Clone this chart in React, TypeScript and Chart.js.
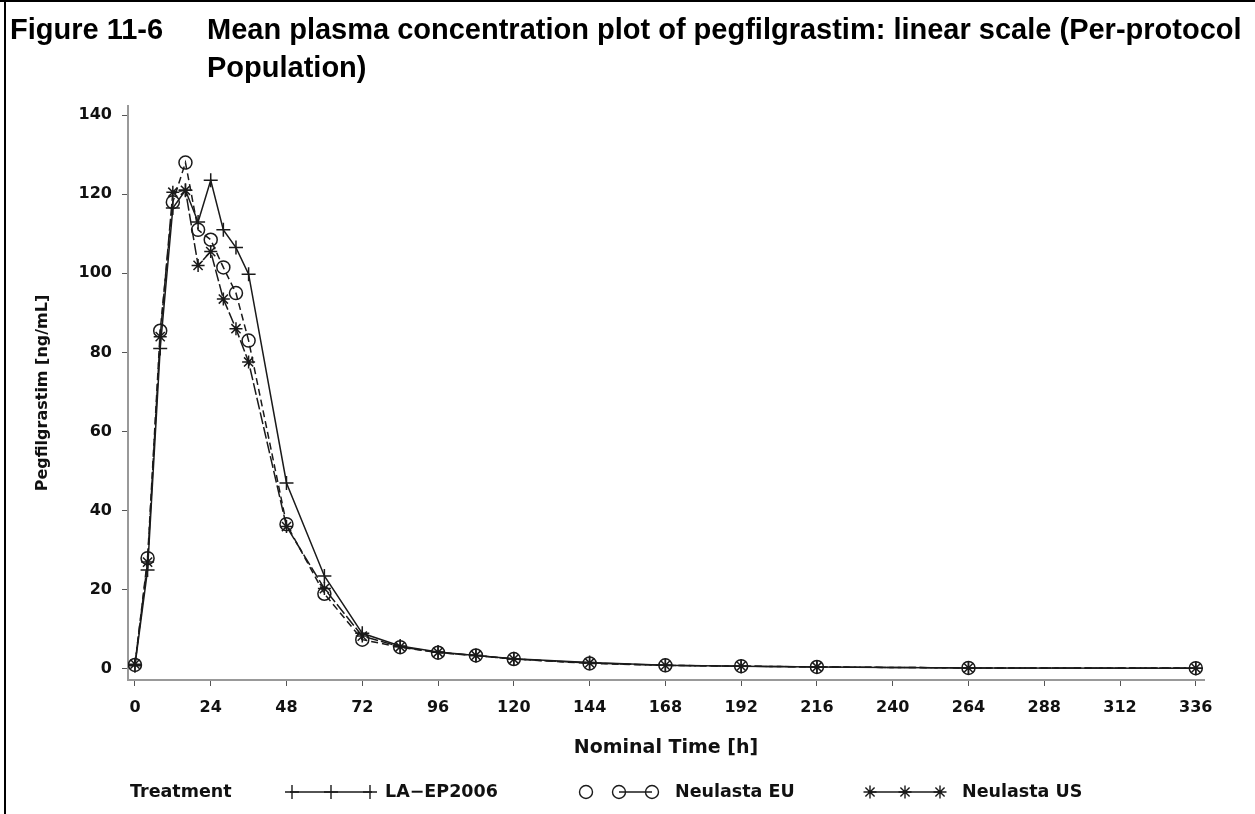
import React, { useEffect, useRef } from "react";
import { Chart, registerables } from "chart.js";

Chart.register(...registerables);

const times = [0, 4, 8, 12, 16, 20, 24, 28, 32, 36, 48, 60, 72, 84, 96, 108, 120, 144, 168, 192, 216, 264, 336];
const laEp2006 = [0.8, 25, 81, 116.5, 121, 113, 123.5, 111, 106.5, 99.8, 47, 23.5, 9, 5.8, 4.3, 3.4, 2.6, 1.6, 0.9, 0.7, 0.5, 0.25, 0.2];
const neulastaEU = [1, 28, 85.5, 118, 128, 111, 108.5, 101.5, 95, 83, 36.6, 19, 7.4, 5.5, 4.1, 3.4, 2.5, 1.4, 0.9, 0.7, 0.5, 0.25, 0.2];
const neulastaUS = [1.2, 27, 84, 120.5, 121, 102, 105.5, 93.5, 86, 77.6, 36, 20.3, 8.3, 5.6, 4.2, 3.4, 2.5, 1.5, 0.9, 0.7, 0.5, 0.25, 0.2];

const seriesLabels = ["LA\u2212EP2006", "Neulasta EU", "Neulasta US"];
const xTicks = [0, 24, 48, 72, 96, 120, 144, 168, 192, 216, 240, 264, 288, 312, 336];
const yTicks = [0, 20, 40, 60, 80, 100, 120, 140];

const figureLabel = "Figure 11-6";
const titleLines = ["Mean plasma concentration plot of pegfilgrastim: linear scale (Per-protocol", "Population)"];
const xTitle = "Nominal Time [h]";
const yTitle = "Pegfilgrastim [ng/mL]";
const legendTitle = "Treatment";

const INK = "#1a1a1a";

function drawMarker(ctx: CanvasRenderingContext2D, style: string, x: number, y: number, r: number) {
  ctx.beginPath();
  if (style === "cross") {
    ctx.moveTo(x - r, y); ctx.lineTo(x + r, y);
    ctx.moveTo(x, y - r); ctx.lineTo(x, y + r);
  } else if (style === "circle") {
    ctx.arc(x, y, r, 0, Math.PI * 2);
  } else {
    for (let k = 0; k < 4; k++) {
      const a = (k * Math.PI) / 4;
      ctx.moveTo(x - r * Math.cos(a), y - r * Math.sin(a));
      ctx.lineTo(x + r * Math.cos(a), y + r * Math.sin(a));
    }
  }
  ctx.stroke();
}

const legendSamples = [
  { lineFrom: 290, lineTo: 372, marks: [292, 331, 370], text: 385 },
  { lineFrom: 619, lineTo: 652, marks: [586, 619, 652], text: 675 },
  { lineFrom: 870, lineTo: 940, marks: [870, 905, 940], text: 962 },
];

const legendPlugin = {
  id: "treatmentLegend",
  afterDraw(chart: any) {
    const ctx: CanvasRenderingContext2D = chart.ctx;
    const y = 792;
    ctx.save();
    ctx.font = 'bold 17.5px "DejaVu Sans"';
    ctx.fillStyle = "#111";
    ctx.textBaseline = "middle";
    ctx.textAlign = "left";
    ctx.fillText(legendTitle, 130, y);
    chart.data.datasets.forEach((ds: any, i: number) => {
      const s = legendSamples[i];
      ctx.strokeStyle = INK;
      ctx.lineWidth = 1.4;
      ctx.setLineDash([]);
      ctx.beginPath();
      ctx.moveTo(s.lineFrom, y);
      ctx.lineTo(s.lineTo, y);
      ctx.stroke();
      s.marks.forEach((mx) => drawMarker(ctx, ds.pointStyle, mx, y, ds.pointRadius));
      ctx.fillText(ds.label, s.text, y);
    });
    ctx.restore();
  },
};

export default function App() {
  const canvasRef = useRef<HTMLCanvasElement | null>(null);

  useEffect(() => {
    const canvas = canvasRef.current;
    if (!canvas) return;
    const mk = (vals: number[]) => times.map((t, i) => ({ x: t, y: vals[i] }));
    const chart = new Chart(canvas, {
      type: "line",
      data: {
        datasets: [
          {
            label: seriesLabels[0],
            data: mk(laEp2006),
            borderColor: INK,
            borderWidth: 1.5,
            pointStyle: "cross",
            pointRadius: 7,
            pointBorderColor: INK,
            pointBorderWidth: 1.5,
            pointBackgroundColor: "transparent",
            fill: false,
          },
          {
            label: seriesLabels[1],
            data: mk(neulastaEU),
            borderColor: INK,
            borderWidth: 1.5,
            borderDash: [7, 4],
            pointStyle: "circle",
            pointRadius: 6.5,
            pointBorderColor: INK,
            pointBorderWidth: 1.5,
            pointBackgroundColor: "transparent",
            fill: false,
          },
          {
            label: seriesLabels[2],
            data: mk(neulastaUS),
            borderColor: INK,
            borderWidth: 1.5,
            borderDash: [12, 3],
            pointStyle: "star",
            pointRadius: 6.5,
            pointBorderColor: INK,
            pointBorderWidth: 1.5,
            pointBackgroundColor: "transparent",
            fill: false,
          },
        ],
      },
      options: {
        responsive: false,
        animation: false,
        layout: { padding: { top: 106, right: 51, left: 0, bottom: 0 } },
        plugins: { legend: { display: false }, tooltip: { enabled: false }, title: { display: false } },
        scales: {
          x: {
            type: "linear",
            min: -2.2,
            max: 338.6,
            afterBuildTicks: (scale: any) => {
              scale.ticks = xTicks.map((v) => ({ value: v }));
            },
            afterFit: (scale: any) => {
              scale.height = 134;
            },
            ticks: {
              autoSkip: false,
              maxRotation: 0,
              padding: 12,
              color: "#111",
              font: { family: '"DejaVu Sans"', size: 16, weight: "bold" },
              callback: (v: any) => String(v),
            },
            grid: { display: true, drawOnChartArea: false, drawTicks: true, tickLength: 6, color: "#555", lineWidth: 1 },
            border: { display: true, color: "#999", width: 2 },
            title: {
              display: true,
              text: xTitle,
              color: "#111",
              font: { family: '"DejaVu Sans"', size: 19, weight: "bold" },
              padding: { top: 0, bottom: 55 },
            },
          },
          y: {
            type: "linear",
            min: -2.8,
            max: 142.3,
            afterBuildTicks: (scale: any) => {
              scale.ticks = yTicks.map((v) => ({ value: v }));
            },
            afterFit: (scale: any) => {
              scale.width = 128;
            },
            ticks: {
              autoSkip: false,
              padding: 10,
              color: "#111",
              font: { family: '"DejaVu Sans"', size: 16, weight: "bold" },
              callback: (v: any) => String(v),
            },
            grid: { display: true, drawOnChartArea: false, drawTicks: true, tickLength: 6, color: "#555", lineWidth: 1 },
            border: { display: true, color: "#999", width: 2 },
            title: {
              display: true,
              text: yTitle,
              color: "#111",
              font: { family: '"DejaVu Sans"', size: 16, weight: "bold" },
              padding: { top: 33, bottom: 0 },
            },
          },
        },
      },
      plugins: [legendPlugin],
    });
    return () => chart.destroy();
  }, []);

  const titleFont: React.CSSProperties = {
    fontFamily: '"Liberation Sans", Arial, sans-serif',
    fontWeight: "bold",
    fontSize: 29,
    color: "#000",
    position: "absolute",
    whiteSpace: "nowrap",
    lineHeight: "38px",
  };

  return (
    <div style={{ position: "fixed", left: 0, top: 0, width: 1255, height: 814, background: "#fff", overflow: "hidden" }}>
      <div style={{ position: "absolute", left: 0, top: 0, width: 1255, height: 2, background: "#000" }} />
      <div style={{ position: "absolute", left: 4, top: 0, width: 2, height: 814, background: "#000" }} />
      <canvas ref={canvasRef} width={1255} height={814} style={{ position: "absolute", left: 0, top: 0 }} />
      <div style={{ ...titleFont, left: 10, top: 10 }}>{figureLabel}</div>
      <div style={{ ...titleFont, left: 207, top: 10 }}>
        {titleLines.map((l, i) => (
          <div key={i}>{l}</div>
        ))}
      </div>
    </div>
  );
}
